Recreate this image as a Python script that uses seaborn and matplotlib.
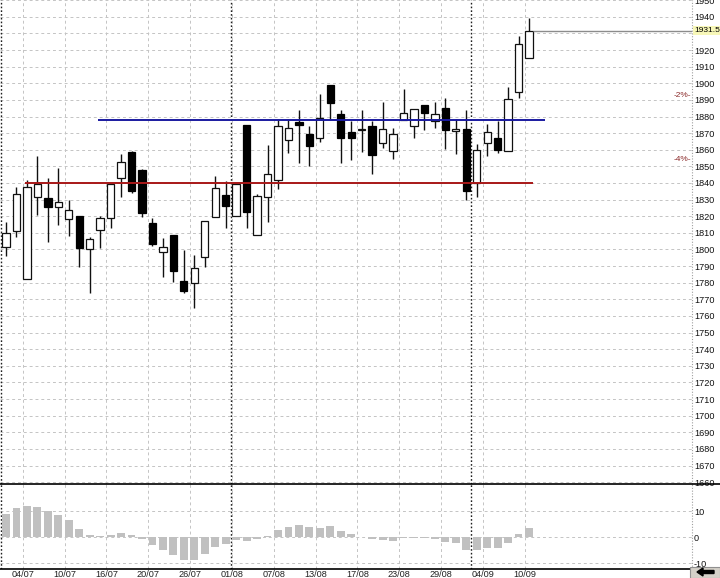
import matplotlib
matplotlib.use("Agg")
import numpy as np
import pandas as pd
import seaborn as sns
import matplotlib.pyplot as plt
from matplotlib.lines import Line2D
from matplotlib.patches import Rectangle, FancyArrow
import matplotlib.transforms as mtransforms

# ---------------- data ----------------
dates = ["02/07", "03/07", "04/07", "05/07", "06/07", "09/07", "10/07", "11/07", "12/07", "13/07",
         "16/07", "17/07", "18/07", "19/07", "20/07", "23/07", "24/07", "25/07", "26/07", "27/07",
         "30/07", "31/07", "01/08", "02/08", "03/08", "06/08", "07/08", "08/08", "09/08", "10/08",
         "13/08", "14/08", "15/08", "16/08", "17/08", "20/08", "21/08", "22/08", "23/08", "24/08",
         "27/08", "28/08", "29/08", "30/08", "31/08", "03/09", "04/09", "05/09", "06/09", "07/09",
         "10/09"]
opens = [1801.3, 1810.9, 1782.0, 1831.3, 1830.7, 1825.3, 1818.1, 1819.9, 1800.1, 1811.5,
         1818.7, 1843.3, 1858.9, 1848.1, 1815.7, 1798.3, 1808.5, 1780.8, 1779.6, 1795.3,
         1819.3, 1832.5, 1819.9, 1875.1, 1808.5, 1831.3, 1842.1, 1866.1, 1876.9, 1869.7,
         1867.3, 1899.2, 1881.7, 1870.9, 1872.1, 1874.5, 1864.3, 1859.5, 1878.1, 1874.5,
         1887.1, 1877.5, 1885.3, 1871.5, 1872.7, 1839.7, 1864.3, 1867.3, 1859.5, 1895.0,
         1915.4]
highs = [1816.3, 1837.3, 1842.1, 1856.5, 1843.3, 1849.3, 1829.5, 1819.9, 1807.3, 1819.9,
         1839.7, 1857.7, 1859.5, 1848.7, 1818.7, 1806.7, 1808.5, 1799.5, 1796.5, 1816.9,
         1844.5, 1840.9, 1840.0, 1875.1, 1833.1, 1863.1, 1878.7, 1878.7, 1884.1, 1874.5,
         1893.8, 1899.2, 1884.1, 1877.5, 1884.1, 1877.5, 1889.0, 1873.3, 1896.8, 1884.7,
         1887.1, 1889.0, 1891.4, 1878.7, 1884.1, 1863.7, 1875.7, 1877.5, 1898.0, 1928.6,
         1939.4]
lows = [1795.9, 1807.3, 1782.0, 1820.5, 1804.3, 1814.5, 1807.9, 1789.2, 1773.6, 1800.7,
        1812.7, 1831.3, 1833.7, 1819.3, 1801.9, 1783.2, 1780.2, 1773.6, 1764.6, 1789.2,
        1819.3, 1812.7, 1819.9, 1812.7, 1808.5, 1816.3, 1836.1, 1858.3, 1852.3, 1850.5,
        1864.9, 1878.1, 1852.3, 1854.1, 1858.9, 1845.7, 1861.3, 1854.7, 1878.1, 1867.3,
        1872.1, 1873.3, 1860.7, 1857.7, 1829.5, 1831.3, 1856.5, 1858.3, 1859.5, 1891.4,
        1915.4]
closes = [1809.7, 1833.1, 1837.3, 1839.1, 1825.3, 1828.3, 1823.5, 1800.7, 1806.1, 1818.7,
          1839.1, 1852.9, 1834.9, 1821.7, 1803.1, 1801.3, 1786.8, 1774.8, 1788.6, 1816.9,
          1836.7, 1825.9, 1839.1, 1822.3, 1831.9, 1845.7, 1874.5, 1873.3, 1875.1, 1862.5,
          1879.3, 1888.4, 1867.3, 1867.3, 1872.1, 1857.1, 1872.7, 1869.7, 1882.3, 1884.7,
          1882.3, 1881.7, 1872.1, 1872.7, 1834.9, 1860.1, 1870.9, 1860.1, 1890.8, 1923.8,
          1931.5]
oscillator = [9.0, 11.2, 12.1, 11.5, 10.1, 8.3, 6.4, 3.1, 0.9, 0.3,
              0.9, 1.7, 0.9, -0.6, -3.2, -5.1, -6.9, -8.8, -8.7, -6.7,
              -3.7, -2.7, -1.0, -1.4, -0.8, 0.3, 2.8, 3.8, 4.5, 3.7,
              3.6, 4.2, 2.4, 1.2, 0.1, -0.8, -1.0, -1.5, -0.5, -0.4,
              -0.5, -0.8, -1.8, -2.4, -5.1, -5.1, -4.4, -4.4, -2.4, 1.2,
              3.5]
tick_labels = ["04/07", "10/07", "16/07", "20/07", "26/07", "01/08", "07/08",
               "13/08", "17/08", "23/08", "29/08", "04/09", "10/09"]
support_level = 1840.0
resistance_level = 1877.8
last_price = 1931.5
pct_levels = [2, 4]
price_ticks = list(range(1660, 1960, 10))
osc_ticks = [10, 0, -10]

# ---------------- layout ----------------
sns.set_theme(style="white")
plt.rcParams['font.family'] = ['Liberation Sans', 'DejaVu Sans']

W, H = 720, 578
fig = plt.figure(figsize=(W / 100, H / 100), dpi=100)
fig.patch.set_facecolor("white")


def rect(l, t, r, b):
    return [l / W, 1 - b / H, (r - l) / W, (b - t) / H]


ax1 = fig.add_axes(rect(0, 0, 692, 484))
ax2 = fig.add_axes(rect(0, 484, 692, 569))

n = len(dates)
x = np.arange(n)
XMIN, XMAX = -0.574, 65.58

grid_kw = dict(color="#c4c4c4", ls=(0, (3, 3)), lw=0.7, zorder=0)
tick_idx = [dates.index(t) for t in tick_labels]
month_idx = [i for i in range(n) if i == 0 or dates[i][3:] != dates[i - 1][3:]]

# histogram (seaborn)
df = pd.DataFrame({"i": x, "v": oscillator})
sns.barplot(data=df, x="i", y="v", native_scale=True, orient="v", color="#c0c0c0",
            saturation=1, width=0.75, errorbar=None, ax=ax2, zorder=2, linewidth=0)
ax2.set_xlabel("")
ax2.set_ylabel("")

for ax in (ax1, ax2):
    ax.set_facecolor("white")
    for p in tick_idx:
        ax.axvline(p - 0.4, **grid_kw)
    for m in month_idx:
        ax.axvline(m - 0.5, color="#202020", ls=(0, (1.2, 1.5)), lw=1.0, zorder=1)
    ax.axvline(XMAX, color="#a0a0a0", ls=(0, (1, 1.5)), lw=0.8, zorder=1, clip_on=False)
    ax.set_xlim(XMIN, XMAX)
    for s in ax.spines.values():
        s.set_visible(False)

for v in price_ticks:
    ax1.axhline(v, **grid_kw)
for v in osc_ticks:
    ax2.axhline(v, **grid_kw)

# candles
o = np.array(opens); c = np.array(closes)
hi = np.array(highs); lo = np.array(lows)
up = c >= o
ax1.vlines(x, lo, hi, color="#101010", lw=1.0, zorder=2)
bottoms = np.minimum(o, c)
heights = np.maximum(np.abs(c - o), 0.35)
ax1.bar(x[up], heights[up], bottom=bottoms[up], width=0.7, color="white",
        edgecolor="#101010", linewidth=0.9, zorder=3)
ax1.bar(x[~up], heights[~up], bottom=bottoms[~up], width=0.7, color="black",
        edgecolor="black", linewidth=0.9, zorder=3)

# level lines
ax1.hlines(support_level, 1.82, 50.4, color="#a81818", lw=1.4, zorder=4)
ax1.hlines(resistance_level, 8.8, 51.5, color="#1a1aa0", lw=1.4, zorder=4)
ax1.hlines(last_price, 50.4, XMAX, color="#8c8c8c", lw=1.0, zorder=4)

ax1.set_ylim(1658.9, 1950.1)
ax2.set_ylim(-12.3, 20.4)

# axes ticks (the 1930 label sits under the last-price tag, as in the original)
ax1.yaxis.tick_right()
ax1.set_yticks(price_ticks)
ax1.set_yticklabels(["" if abs(v - last_price) < 5 else str(v) for v in price_ticks])
ax1.tick_params(axis="y", length=0, pad=1.5, labelsize=6.6, labelcolor="#111111")
ax1.set_xticks([])

ax2.yaxis.tick_right()
ax2.set_yticks(osc_ticks)
ax2.set_yticklabels([str(v) for v in osc_ticks])
ax2.tick_params(axis="y", length=0, pad=1.5, labelsize=6.6, labelcolor="#111111")
ax2.set_xticks([p - 0.4 for p in tick_idx])
ax2.set_xticklabels(tick_labels)
ax2.tick_params(axis="x", length=0, pad=1.0, labelsize=6.6, labelcolor="#222222")
ax2.spines["bottom"].set_visible(True)
ax2.spines["bottom"].set_color("black")
ax2.spines["bottom"].set_linewidth(1.2)

# last price tag
trans = mtransforms.blended_transform_factory(ax1.transAxes, ax1.transData)
ax1.text(1.0 + 2 / 692, last_price, f"{last_price:.1f}", transform=trans, ha="left",
         va="center", fontsize=6.0, color="black", zorder=10, clip_on=False,
         bbox=dict(boxstyle="square,pad=0.12", fc="#f7f7b8", ec="none"))

# percent markers
for pct in pct_levels:
    ax1.text(1.0 - 1 / 692, last_price * (1 - pct / 100), f"-{pct}%-", transform=trans,
             ha="right", va="center", fontsize=6.0, color="#8b2a2a", zorder=6)

# separator line between panels
fig.add_artist(Line2D([0, 1], [1 - 484 / H] * 2, color="black", lw=1.2))

# scroll arrow box
fig.add_artist(Rectangle((690 / W, 0), 30 / W, 11 / H, transform=fig.transFigure,
                         fc="#d4d0c8", ec="#909090", lw=0.8))
fig.add_artist(FancyArrow(714 / W, 1 - 572 / H, -17 / W, 0, width=3 / H,
                          head_width=8 / H, head_length=6 / W,
                          length_includes_head=True, transform=fig.transFigure,
                          color="black"))

fig.savefig("out.png", dpi=100)
